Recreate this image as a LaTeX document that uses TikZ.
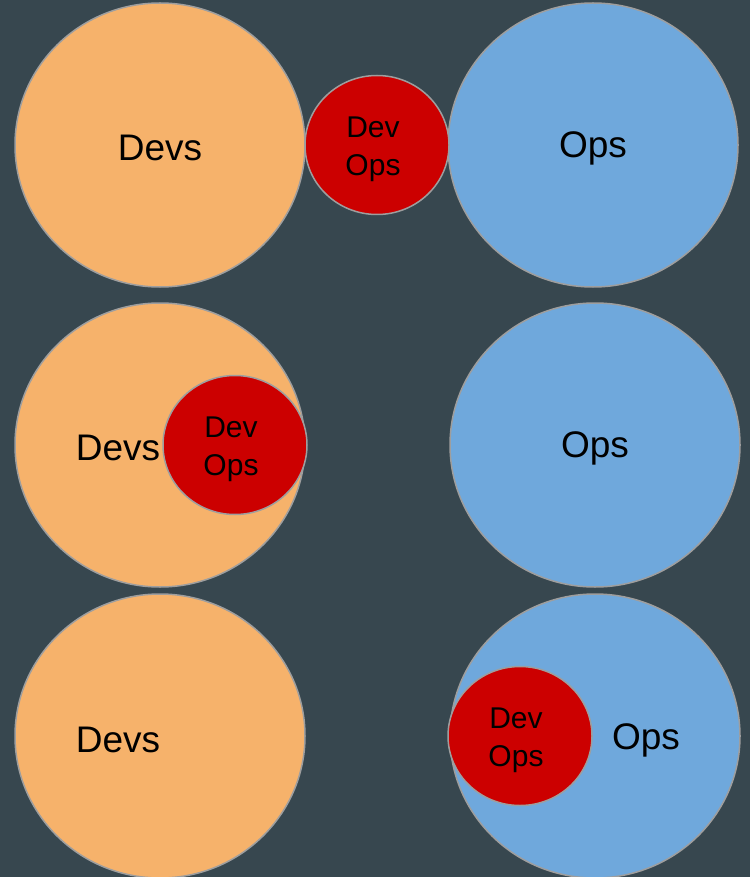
\documentclass[tikz,border=0pt]{standalone}
\usepackage{fontspec}
\setmainfont{Liberation Sans}
\usetikzlibrary{shapes.geometric, positioning}

\definecolor{slate}{RGB}{55,71,79}
\definecolor{devorange}{RGB}{246,178,107}
\definecolor{opsblue}{RGB}{111,168,220}
\definecolor{devopsred}{RGB}{204,0,0}
\definecolor{rim}{RGB}{158,158,158}

\begin{document}
\begin{tikzpicture}[
        x=1pt, y=-1pt,
        bigc/.style={ellipse, draw=rim, line width=1.5pt, minimum width=290pt, minimum height=284pt, inner sep=0pt},
        devc/.style={bigc, fill=devorange},
        opsc/.style={bigc, fill=opsblue},
        dopc/.style={ellipse, draw=rim, line width=1.5pt, fill=devopsred, minimum width=144pt, minimum height=139pt, inner sep=0pt},
        doptxt/.style={align=center, inner sep=0pt, font=\fontsize{30}{38}\selectfont},
        lbl/.style={font=\fontsize{37}{44}\selectfont, inner sep=0pt, yshift=-3pt},
      ]

        \fill[slate] (0,0) rectangle (750,877);
        \useasboundingbox (0,0) rectangle (750,877);

        % first row
        \node[devc] (devs1) at (160,145) {};
        \node[opsc] (ops1)  at (593,145) {};
        \node[dopc] (dop1)  at (377,145) {};
        \node[doptxt] (dopt1) at ([xshift=-4pt, yshift=-4pt]dop1.center) {Dev\\Ops};
        \node[lbl]  (devt1) at (160,145) {Devs};
        \node[lbl]  (opst1) at (593,145) {Ops};

        % second row
        \node[devc] (devs2) at (160,445) {};
        \node[opsc] (ops2)  at (595,445) {};
        \node[dopc] (dop2)  at (235,445) {};
        \node[doptxt] (dopt2) at ([xshift=-4pt, yshift=-4pt]dop2.center) {Dev\\Ops};
        \node[lbl]  (devt2) at (118,445) {Devs};
        \node[lbl]  (opst2) at (595,445) {Ops};

        % third row
        \node[devc] (devs3) at (160,736) {};
        \node[opsc] (ops3)  at (595,736) {};
        \node[dopc] (dop3)  at (520,736) {};
        \node[doptxt] (dopt3) at ([xshift=-4pt, yshift=-4pt]dop3.center) {Dev\\Ops};
        \node[lbl]  (devt3) at (118,737) {Devs};
        \node[lbl]  (opst3) at (646,737) {Ops};
      \end{tikzpicture}
\end{document}
